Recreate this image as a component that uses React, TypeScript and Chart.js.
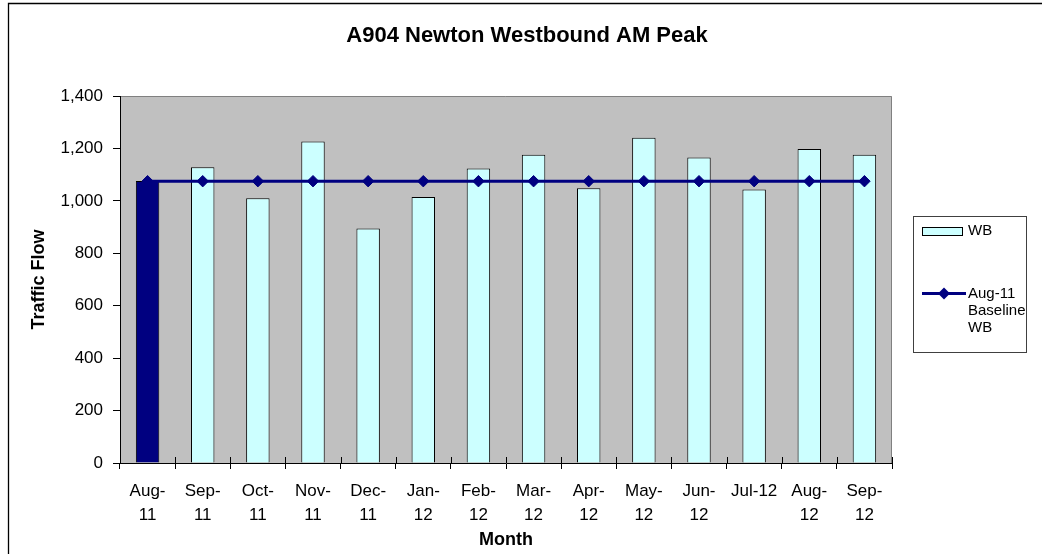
import React, { useEffect, useRef } from 'react';
import { Chart, registerables } from 'chart.js';

Chart.register(...registerables);

const chartTitle = 'A904 Newton Westbound AM Peak';
const monthLabels: (string | string[])[] = [
  ['Aug-', '11'], ['Sep-', '11'], ['Oct-', '11'], ['Nov-', '11'], ['Dec-', '11'],
  ['Jan-', '12'], ['Feb-', '12'], ['Mar-', '12'], ['Apr-', '12'], ['May-', '12'],
  ['Jun-', '12'], 'Jul-12', ['Aug-', '12'], ['Sep-', '12'],
];
const wbValues = [1076, 1128, 1010, 1226, 895, 1015, 1123, 1176, 1048, 1241, 1165, 1043, 1198, 1176];
const baselineValues = [1075, 1075, 1075, 1075, 1075, 1075, 1075, 1075, 1075, 1075, 1075, 1075, 1075, 1075];
const yTickValues = [0, 200, 400, 600, 800, 1000, 1200, 1400];
const legendWB = 'WB';
const legendBaseline = ['Aug-11', 'Baseline', 'WB'];
const xAxisTitle = 'Month';
const yAxisTitle = 'Traffic Flow';

const FONT = '"Liberation Sans", Arial, Helvetica, sans-serif';
const NAVY = '#000080';
const CYAN = '#CCFFFF';
const PLOT_BG = '#C0C0C0';

const decorPlugin = {
  id: 'decor',
  beforeDraw(chart: any) {
    const { ctx, chartArea: a } = chart;
    ctx.save();
    ctx.fillStyle = '#ffffff';
    ctx.fillRect(0, 0, chart.width, chart.height);
    // outer frame (only top and left visible)
    ctx.strokeStyle = '#000000';
    ctx.lineWidth = 1.3;
    ctx.beginPath();
    ctx.moveTo(8.5, chart.height + 2);
    ctx.lineTo(8.5, 3.5);
    ctx.lineTo(chart.width + 2, 3.5);
    ctx.stroke();
    // plot area
    ctx.fillStyle = PLOT_BG;
    ctx.fillRect(a.left, a.top, a.right - a.left, a.bottom - a.top);
    ctx.strokeStyle = '#808080';
    ctx.lineWidth = 1;
    ctx.beginPath();
    ctx.moveTo(a.left, a.top + 0.5);
    ctx.lineTo(a.right - 0.5, a.top + 0.5);
    ctx.lineTo(a.right - 0.5, a.bottom);
    ctx.stroke();
    ctx.restore();
  },
  afterDraw(chart: any) {
    const { ctx, chartArea: a } = chart;
    ctx.save();
    // inner x tick marks at category boundaries
    const n = monthLabels.length;
    const step = (a.right - a.left) / n;
    ctx.strokeStyle = '#000000';
    ctx.lineWidth = 1;
    ctx.beginPath();
    for (let i = 0; i <= n; i++) {
      const x = Math.round(a.left + i * step) + 0.5;
      ctx.moveTo(x, a.bottom - 6);
      ctx.lineTo(x, a.bottom);
    }
    ctx.stroke();

    // legend
    const lx = 913.5, ly = 216.5, lw = 113, lh = 136;
    ctx.fillStyle = '#ffffff';
    ctx.fillRect(lx, ly, lw, lh);
    ctx.strokeStyle = '#404040';
    ctx.lineWidth = 1;
    ctx.strokeRect(lx, ly, lw, lh);

    ctx.fillStyle = CYAN;
    ctx.fillRect(922.5, 227.5, 40, 8);
    ctx.strokeStyle = '#000000';
    ctx.strokeRect(922.5, 227.5, 40, 8);

    ctx.font = `15px ${FONT}`;
    ctx.fillStyle = '#000000';
    ctx.textBaseline = 'middle';
    ctx.textAlign = 'left';
    ctx.fillText(legendWB, 968, 231);

    ctx.strokeStyle = NAVY;
    ctx.lineWidth = 3;
    ctx.beginPath();
    ctx.moveTo(922, 293.5);
    ctx.lineTo(966, 293.5);
    ctx.stroke();
    ctx.fillStyle = NAVY;
    ctx.beginPath();
    ctx.moveTo(944, 287.5);
    ctx.lineTo(950, 293.5);
    ctx.lineTo(944, 299.5);
    ctx.lineTo(938, 293.5);
    ctx.closePath();
    ctx.fill();

    ctx.fillStyle = '#000000';
    legendBaseline.forEach((t, i) => ctx.fillText(t, 968, 293.5 + i * 17.3));
    ctx.restore();
  },
};

export default function App() {
  const ref = useRef<HTMLCanvasElement>(null);

  useEffect(() => {
    if (!ref.current) return;
    const chart = new Chart(ref.current, {
      type: 'bar',
      data: {
        labels: monthLabels as any,
        datasets: [
          {
            type: 'line',
            label: legendBaseline.join(' '),
            data: baselineValues,
            borderColor: NAVY,
            borderWidth: 3,
            backgroundColor: NAVY,
            pointStyle: 'rectRot',
            pointRadius: 5.7,
            pointBackgroundColor: NAVY,
            pointBorderColor: NAVY,
            pointBorderWidth: 1,
            order: 0,
            xAxisID: 'x',
            yAxisID: 'y',
          } as any,
          {
            type: 'bar',
            label: legendWB,
            data: wbValues,
            backgroundColor: (c: any) => (c.dataIndex === 0 ? NAVY : CYAN),
            borderColor: '#000000',
            borderWidth: 1,
            categoryPercentage: 1,
            barPercentage: 0.425,
            order: 1,
            xAxisID: 'x',
            yAxisID: 'y',
          } as any,
        ],
      },
      plugins: [decorPlugin],
      options: {
        responsive: false,
        animation: false,
        events: [],
        layout: { padding: { left: 12, right: 0, top: 0, bottom: 0 } },
        plugins: {
          legend: { display: false },
          tooltip: { enabled: false },
          title: {
            display: true,
            text: chartTitle,
            color: '#000000',
            font: { family: FONT, size: 22, weight: 'bold', lineHeight: 1.2 },
            padding: { top: 22.5, bottom: 47.1 },
          },
        },
        scales: {
          x: {
            type: 'category',
            offset: true,
            grid: { display: true, offset: true, drawOnChartArea: false, drawTicks: true, tickLength: 6, color: '#000000' },
            border: { display: true, color: '#000000', width: 1 },
            ticks: {
              color: '#000000',
              font: { family: FONT, size: 17, lineHeight: 1.37 },
              padding: 11,
              maxRotation: 0,
              minRotation: 0,
              autoSkip: false,
            },
            title: {
              display: true,
              text: xAxisTitle,
              color: '#000000',
              font: { family: FONT, size: 18, weight: 'bold', lineHeight: 1.2 },
              padding: { top: 0, bottom: 3 },
            },
            afterFit: (s: any) => { s.height = 91; },
          },
          y: {
            type: 'linear',
            position: 'left',
            min: 0,
            max: 1400,
            afterBuildTicks: (s: any) => { s.ticks = yTickValues.map((v) => ({ value: v })); },
            grid: { display: true, drawOnChartArea: false, drawTicks: true, tickLength: 7, color: '#000000' },
            border: { display: true, color: '#000000', width: 1 },
            ticks: {
              color: '#000000',
              font: { family: FONT, size: 17 },
              padding: 10,
              callback: (v: any) => Number(v).toLocaleString('en-US'),
            },
            title: {
              display: true,
              text: yAxisTitle,
              color: '#000000',
              font: { family: FONT, size: 18, weight: 'bold', lineHeight: 1.2 },
              padding: { top: 16, bottom: 0 },
            },
            afterFit: (s: any) => { s.width = 108; },
          },
          yRight: {
            type: 'linear',
            position: 'right',
            display: true,
            grid: { display: false },
            border: { display: false },
            ticks: { display: false },
            afterFit: (s: any) => { s.width = 150; },
          },
        },
      } as any,
    });
    return () => chart.destroy();
  }, []);

  return (
    <div style={{ position: 'fixed', left: 0, top: 0, width: 1042, height: 554, background: '#fff' }}>
      <canvas ref={ref} width={1042} height={554} style={{ display: 'block' }} />
    </div>
  );
}
